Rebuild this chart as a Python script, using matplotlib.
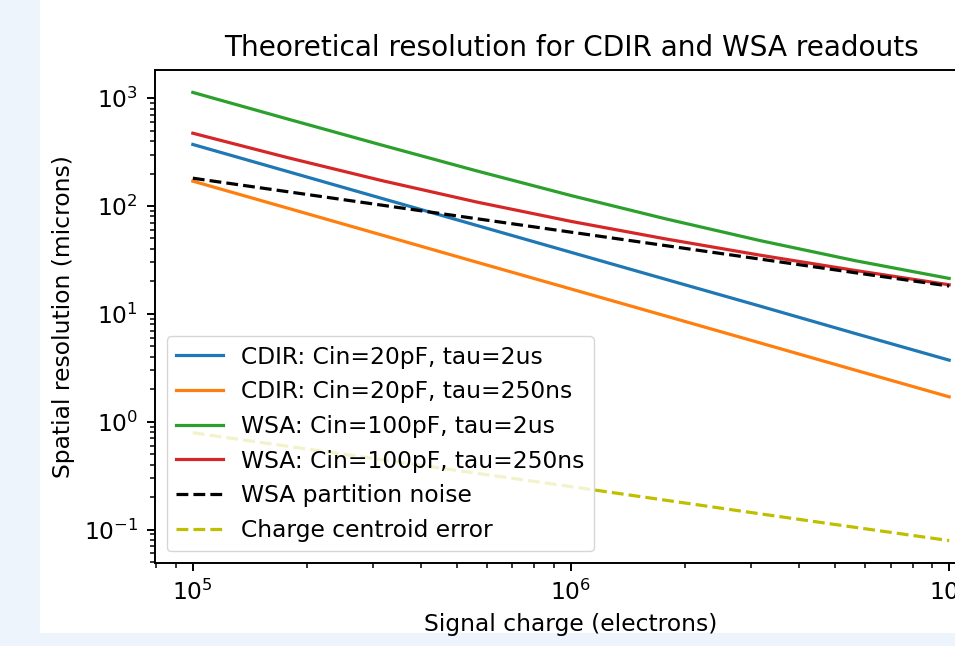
import numpy as np
import matplotlib.pyplot as plt
from matplotlib.patches import Rectangle

# signal charge (electrons)
charge = [1.0e5, 1.78e5, 3.16e5, 5.62e5, 1.0e6, 1.78e6, 3.16e6, 5.62e6, 1.0e7]

# spatial resolution (microns)
cdir_2us = [372, 209, 117.6, 66.2, 37.2, 20.9, 11.8, 6.6, 3.72]
cdir_250ns = [170, 95.6, 53.8, 30.2, 17.0, 9.56, 5.38, 3.02, 1.70]
wsa_2us = [1130, 641, 367, 212, 125, 76.0, 47.8, 31.2, 21.3]
wsa_250ns = [473, 281, 172, 109, 72.0, 49.5, 35.0, 25.3, 18.6]
partition = [181, 135.7, 101.8, 76.3, 57.2, 42.9, 32.2, 24.1, 18.1]
centroid = [0.79, 0.592, 0.444, 0.333, 0.250, 0.187, 0.140, 0.105, 0.079]

labels = ['CDIR: Cin=20pF, tau=2us', 'CDIR: Cin=20pF, tau=250ns',
          'WSA: Cin=100pF, tau=2us', 'WSA: Cin=100pF, tau=250ns',
          'WSA partition noise', 'Charge centroid error']

fs = 16.8
plt.rcParams['font.size'] = fs

fig = plt.figure(figsize=(9.55, 6.46), dpi=100, facecolor='#edf4fb')
# white screenshot area behind the axes
bg = Rectangle((40 / 955, 1 - 633 / 646), 1, 1, transform=fig.transFigure,
               facecolor='white', edgecolor='none', zorder=-10)
fig.patches.append(bg)

ax = fig.add_axes([155 / 955, 1 - 563 / 646, 832 / 955, 493 / 646])
ax.set_zorder(1)
lw = 2.3
ax.loglog(charge, cdir_2us, color='C0', lw=lw, label=labels[0])
ax.loglog(charge, cdir_250ns, color='C1', lw=lw, label=labels[1])
ax.loglog(charge, wsa_2us, color='C2', lw=lw, label=labels[2])
ax.loglog(charge, wsa_250ns, color='C3', lw=lw, label=labels[3])
ax.loglog(charge, partition, 'k--', lw=lw, label=labels[4])
ax.loglog(charge, centroid, 'y--', lw=lw, label=labels[5])

ax.set_title('Theoretical resolution for CDIR and WSA readouts', fontsize=20.2, pad=10)
ax.set_xlabel('Signal charge (electrons)', fontsize=fs, labelpad=6)
ax.set_ylabel('Spatial resolution (microns)', fontsize=fs, labelpad=6)
ax.tick_params(which='major', length=6, width=1.4, labelsize=fs, pad=6)
ax.tick_params(which='minor', length=3.5, width=1.1)
for s in ax.spines.values():
    s.set_linewidth(1.4)
ax.legend(loc='lower left', fontsize=fs, handlelength=2.0)

plt.savefig('out.png', dpi=100, facecolor=fig.get_facecolor())
